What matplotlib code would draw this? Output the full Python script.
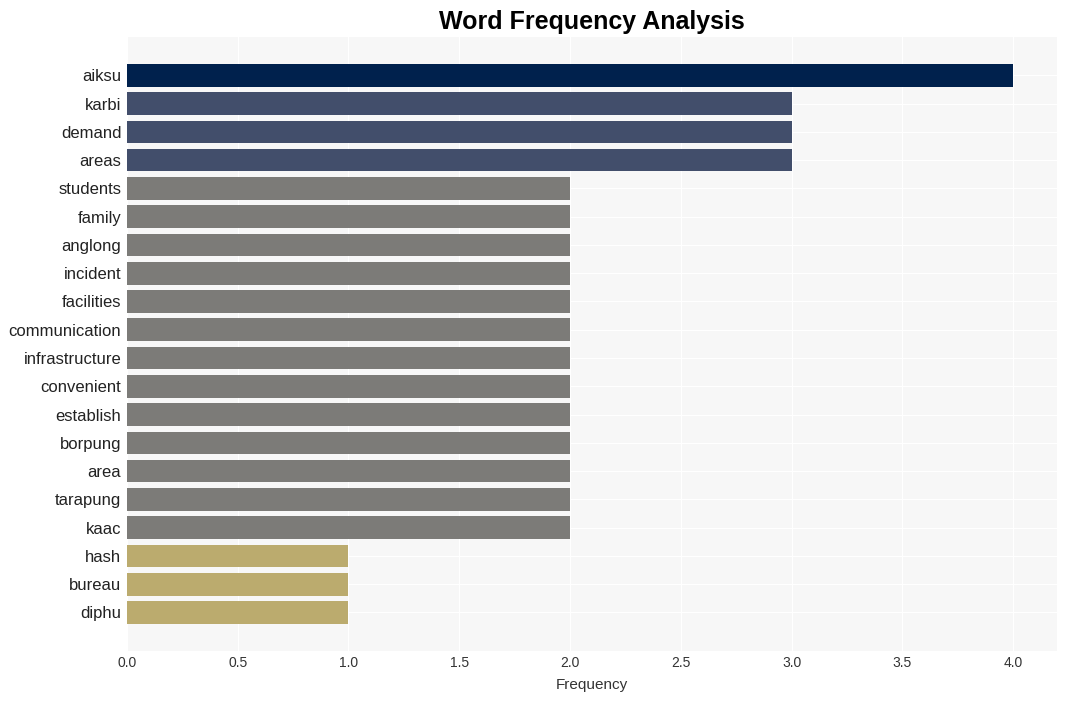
import matplotlib
matplotlib.use("Agg")
import matplotlib.pyplot as plt

words = ["aiksu", "karbi", "demand", "areas", "students", "family", "anglong",
         "incident", "facilities", "communication", "infrastructure", "convenient",
         "establish", "borpung", "area", "tarapung", "kaac", "hash", "bureau", "diphu"]
counts = [4, 3, 3, 3, 2, 2, 2, 2, 2, 2, 2, 2, 2, 2, 2, 2, 2, 1, 1, 1]
palette = {4: "#00214d", 3: "#424e6b", 2: "#7c7b78", 1: "#bbab6e"}

plt.rcParams["font.family"] = ["Liberation Sans", "DejaVu Sans"]

fig, ax = plt.subplots(figsize=(10.66, 7.01), dpi=100)
fig.subplots_adjust(left=0.119, right=0.992, top=0.947, bottom=0.071)

ax.set_facecolor("#f7f7f7")
ax.barh(range(len(words)), counts, height=0.8,
        color=[palette[c] for c in counts], zorder=2)
ax.set_yticks(range(len(words)))
ax.set_yticklabels(words, fontsize=12, color="#222222")
ax.set_ylim(len(words) - 1 + 1.37, -1.35)
ax.set_xlim(0, 4.2)
ax.set_xticks([0, 0.5, 1, 1.5, 2, 2.5, 3, 3.5, 4])
ax.tick_params(axis="x", labelsize=10, colors="#333333", length=0)
ax.tick_params(axis="y", length=0, pad=4)
ax.grid(True, color="white", linewidth=0.8, zorder=0)
for s in ax.spines.values():
    s.set_visible(False)

ax.set_xlabel("Frequency", fontsize=11, color="#333333", labelpad=6)
ax.set_title("Word Frequency Analysis", fontsize=18, fontweight="bold", pad=6)

fig.savefig("out.png", dpi=100, facecolor="white")
